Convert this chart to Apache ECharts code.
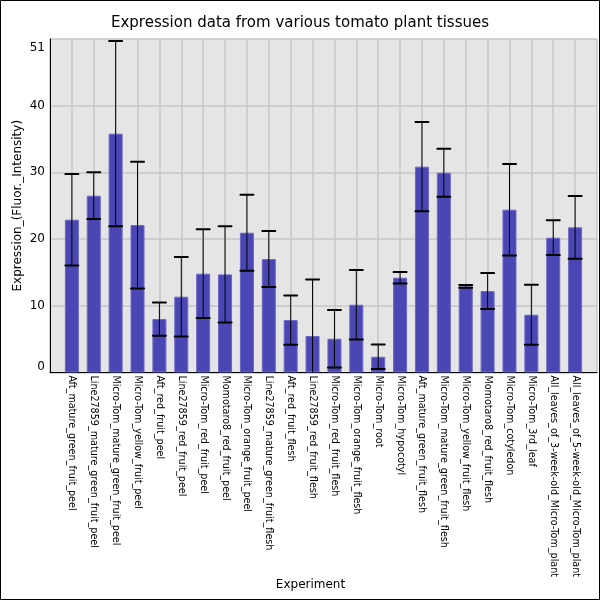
<!DOCTYPE html>
<html>
<head>
<meta charset="utf-8">
<script src="https://cdn.jsdelivr.net/npm/echarts@6/dist/echarts.min.js"></script>
<style>
	html, body { margin: 0; padding: 0; background: #fff; }
	#chart { width: 600px; height: 600px; }
</style>
</head>
<body>
<div id="chart"></div>
<script>

//实验名称
const experiments = [
	'Aft_mature_green_fruit_peel',
	'Line27859_mature_green_fruit_peel',
	'Micro-Tom_mature_green_fruit_peel',
	'Micro-Tom_yellow_fruit_peel',
	'Aft_red_fruit_peel',
	'Line27859_red_fruit_peel',
	'Micro-Tom_red_fruit_peel',
	'Momotaro8_red_fruit_peel',
	'Micro-Tom_orange_fruit_peel',
	'Line27859_mature_green_fruit_flesh',
	'Aft_red_fruit_flesh',
	'Line27859_red_fruit_flesh',
	'Micro-Tom_red_fruit_flesh',
	'Micro-Tom_orange_fruit_flesh',
	'Micro-Tom_root',
	'Micro-Tom_hypocotyl',
	'Aft_mature_green_fruit_flesh',
	'Micro-Tom_mature_green_fruit_flesh',
	'Micro-Tom_yellow_fruit_flesh',
	'Momotaro8_red_fruit_flesh',
	'Micro-Tom_cotyledon',
	'Micro-Tom_3rd_leaf',
	'All_leaves_of_3-week-old_Micro-Tom_plant',
	'All_leaves_of_5-week-old_Micro-Tom_plant'
];

//平均值
const means = [
	22.9, 26.5, 35.8, 22.1, 8.0, 11.35, 14.8, 14.7, 20.95, 17.0, 7.85, 5.45,
	5.05, 10.15, 2.35, 14.2, 30.85, 29.95, 12.9, 12.2, 24.4, 8.65, 20.2, 21.75
];

//标准差
const errors = [
	6.85, 3.5, 13.9, 9.5, 2.5, 5.95, 6.65, 7.2, 5.7, 4.2, 3.7, 8.5,
	4.3, 5.2, 1.85, 0.85, 6.7, 3.6, 0.2, 2.7, 6.85, 4.5, 2.6, 4.7
];

//y轴刻度
const yTickValues = [0, 10, 20, 30, 40, 50];
const yTickLabels = ['0', '10', '20', '30', '40', '51'];

const FONT = 'DejaVu Sans';
const GRID_COLOR = '#c6c6c6';

const barData = means.map((v, i) => [i, v]);
const errData = means.map((v, i) => [i, v - errors[i], v + errors[i]]);

//误差线
const renderError = (params, api) => {

	let x = api.value(0);
	let low = api.coord([x, api.value(1)]);
	let high = api.coord([x, api.value(2)]);
	let half = 6.5;

	let style = { stroke: '#000', lineWidth: 1 };
	let capStyle = { stroke: '#000', lineWidth: 2, lineCap: 'round' };

	return {
		type: 'group',
		children: [
			{ type: 'line', shape: { x1: high[0], y1: high[1], x2: low[0], y2: low[1] }, style: style },
			{ type: 'line', shape: { x1: high[0] - half, y1: high[1], x2: high[0] + half, y2: high[1] }, style: capStyle },
			{ type: 'line', shape: { x1: low[0] - half, y1: low[1], x2: low[0] + half, y2: low[1] }, style: capStyle }
		]
	};
};

//y轴标签：首尾标签往里挪
const yLabel = (v) => {
	let text = yTickLabels[yTickValues.indexOf(v)];
	if (v === yTickValues[0]) return '{min|' + text + '}';
	if (v === yTickValues[yTickValues.length - 1]) return '{max|' + text + '}';
	return text;
};

const option = {
	animation: false,
	title: {
		text: 'Expression data from various tomato plant tissues',
		left: 'center',
		top: 11,
		textStyle: { fontFamily: FONT, fontSize: 15, fontWeight: 'normal', color: '#000' }
	},
	graphic: [
		{
			type: 'rect',
			shape: { x: 0.5, y: 0.5, width: 599, height: 599 },
			style: { fill: 'none', stroke: '#000', lineWidth: 1 },
			z: 100
		}
	],
	grid: {
		left: 50,
		right: 3,
		top: 39,
		bottom: 227.6,
		outerBoundsMode: 'none',
		show: true,
		backgroundColor: '#e5e5e5',
		borderWidth: 0
	},
	xAxis: {
		type: 'value',
		min: -1,
		max: 24,
		interval: 1,
		name: 'Experiment',
		nameLocation: 'middle',
		nameGap: 206,
		nameMoveOverlap: false,
		nameTextStyle: { fontFamily: FONT, fontSize: 12, color: '#000', padding: [0, 26, 0, 0] },
		axisLine: { onZero: false, lineStyle: { color: '#000', width: 1 } },
		axisTick: { show: false },
		axisLabel: {
			rotate: -90,
			margin: 3,
			fontFamily: FONT,
			fontSize: 9.6,
			color: '#000',
			formatter: (v) => experiments[v] || ''
		},
		splitLine: { show: true, lineStyle: { color: GRID_COLOR, width: 1.5 } }
	},
	yAxis: {
		type: 'value',
		min: 0,
		max: 50,
		interval: 10,
		name: 'Expression_(Fluor._Intensity)',
		nameLocation: 'middle',
		nameGap: 26,
		nameMoveOverlap: false,
		nameTextStyle: { fontFamily: FONT, fontSize: 12, color: '#000' },
		axisLine: { show: true, onZero: false, lineStyle: { color: '#000', width: 1 } },
		axisTick: { show: false },
		axisLabel: {
			margin: 5,
			fontFamily: FONT,
			fontSize: 12,
			color: '#000',
			formatter: yLabel,
			rich: {
				min: { fontFamily: FONT, fontSize: 12, color: '#000', padding: [0, 0, 11, 0] },
				max: { fontFamily: FONT, fontSize: 12, color: '#000', padding: [18, 0, 0, 0] }
			}
		},
		splitLine: { show: true, lineStyle: { color: GRID_COLOR, width: 1.5 } }
	},
	series: [
		{
			type: 'bar',
			data: barData,
			barWidth: 14,
			itemStyle: { color: '#4a46b3', borderColor: '#6c68c7', borderWidth: 1 }
		},
		{
			type: 'custom',
			data: errData,
			renderItem: renderError,
			encode: { x: 0, y: [1, 2] },
			clip: true,
			z: 3
		}
	]
};

const chart = echarts.init(document.getElementById('chart'));
chart.setOption(option);

</script>
</body>
</html>
